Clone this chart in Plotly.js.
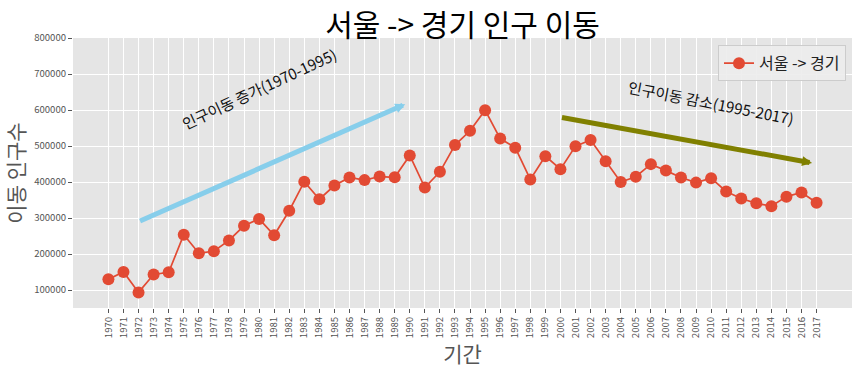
<!DOCTYPE html>
<html>
<head>
<meta charset="utf-8">
<script src="https://cdn.plot.ly/plotly-3.0.1.min.js"></script>
<style>
  html, body { margin: 0; padding: 0; background: #ffffff; }
  #chart { width: 860px; height: 370px; }
</style>
</head>
<body>
<div id="chart"></div>
<script>
const years = ['1970','1971','1972','1973','1974','1975','1976','1977','1978','1979',
  '1980','1981','1982','1983','1984','1985','1986','1987','1988','1989',
  '1990','1991','1992','1993','1994','1995','1996','1997','1998','1999',
  '2000','2001','2002','2003','2004','2005','2006','2007','2008','2009',
  '2010','2011','2012','2013','2014','2015','2016','2017'];
const seoulToGyeonggi = [130149,150313,93333,143234,149045,253705,202276,207722,237684,278411,
  297539,252073,320174,400875,352238,390265,412535,405220,415174,412933,
  473889,384714,428344,502584,542204,599411,520566,495454,407050,471841,
  435573,499575,516765,457656,400206,414621,449632,431637,412408,398282,
  410735,373771,354135,340801,332785,359337,370760,342433];
const yTicks = [100000,200000,300000,400000,500000,600000,700000,800000];

// annotation arrows: [tail index, tail value, head index, head value]
const arrowUp = [2, 290000, 19.7, 616000];
const arrowDown = [30, 580000, 46.7, 453000];
// annotation labels: [index, value, angle]
const labelUp = [10, 660000, -25];
const labelDown = [40, 620000, 11];

const FONT = '"Noto Sans CJK KR", "Noto Sans", sans-serif';
const xIdx = years.map((_, i) => i);

const trace = {
  x: xIdx,
  y: seoulToGyeonggi,
  type: 'scatter',
  mode: 'lines+markers',
  name: '서울 -> 경기',
  line: { color: '#E24A33', width: 1.7 },
  marker: { color: '#E24A33', size: 12 }
};

function arrow(a, color) {
  return {
    x: a[2], y: a[3], xref: 'x', yref: 'y',
    ax: a[0], ay: a[1], axref: 'x', ayref: 'y',
    text: '', showarrow: true,
    arrowhead: 2, arrowsize: 0.4, arrowwidth: 5, arrowcolor: color,
    standoff: 0, startstandoff: 0
  };
}
function label(l, text) {
  return {
    x: l[0], y: l[1], xref: 'x', yref: 'y',
    text: text, showarrow: false, textangle: l[2],
    xanchor: 'center', yanchor: 'middle',
    font: { family: FONT, size: 15, color: '#111111' }
  };
}

const layout = {
  width: 860, height: 370,
  margin: { l: 73, r: 8, t: 38, b: 62 },
  paper_bgcolor: '#ffffff',
  plot_bgcolor: '#E5E5E5',
  font: { family: FONT, color: '#555555' },
  title: {
    text: '서울 -> 경기 인구 이동',
    font: { family: FONT, size: 30, color: '#000000' },
    x: 0.5, xref: 'paper', xanchor: 'center',
    y: 1 - 25 / 370, yref: 'container', yanchor: 'middle'
  },
  xaxis: {
    range: [-2.35, 49.35],
    tickmode: 'array', tickvals: xIdx, ticktext: years,
    tickangle: -90,
    tickfont: { family: FONT, size: 9.6, color: '#555555' },
    ticks: 'outside', ticklen: 4, tickcolor: '#555555', tickwidth: 1,
    showgrid: true, gridcolor: '#ffffff', gridwidth: 1,
    zeroline: false, showline: false,
    title: { text: '기간', font: { family: FONT, size: 21, color: '#555555' }, standoff: 0 }
  },
  yaxis: {
    range: [50000, 800000],
    tickmode: 'array', tickvals: yTicks, ticktext: yTicks.map(String),
    tickfont: { family: FONT, size: 9.6, color: '#555555' },
    ticks: 'outside', ticklen: 4, tickcolor: '#555555', tickwidth: 1,
    showgrid: true, gridcolor: '#ffffff', gridwidth: 1,
    zeroline: false, showline: false,
    title: { text: '이동 인구수', font: { family: FONT, size: 21, color: '#555555' }, standoff: 6 }
  },
  showlegend: true,
  legend: {
    x: 0.9923, xanchor: 'right', y: 0.973, yanchor: 'top',
    bgcolor: 'rgba(236,236,236,0.9)', bordercolor: '#CCCCCC', borderwidth: 1,
    font: { family: FONT, size: 16, color: '#222222' }
  },
  annotations: [
    arrow(arrowUp, '#87CEEB'),
    arrow(arrowDown, '#808000'),
    label(labelUp, '인구이동 증가(1970-1995)'),
    label(labelDown, '인구이동 감소(1995-2017)')
  ]
};

Plotly.newPlot('chart', [trace], layout, { displayModeBar: false, staticPlot: true });
</script>
</body>
</html>
